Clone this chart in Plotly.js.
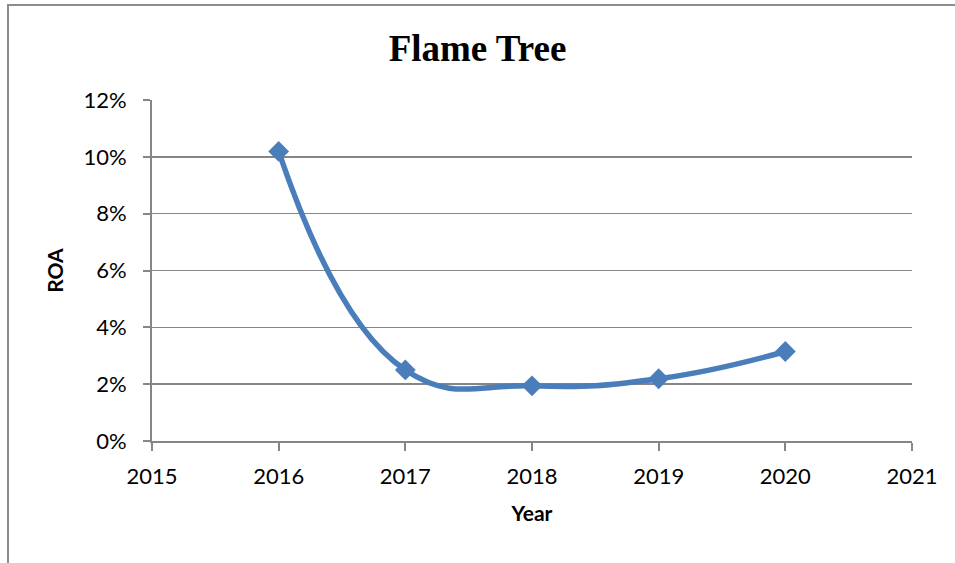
<!DOCTYPE html>
<html>
<head>
<meta charset="utf-8">
<script src="https://cdn.plot.ly/plotly-3.0.1.min.js"></script>
<style>
  html, body { margin: 0; padding: 0; background: #fff; overflow: hidden; }
  #frame { position: absolute; left: 7px; top: 4px; width: 1000px; height: 600px;
           border-left: 2px solid #8c8c8c; border-top: 2px solid #8c8c8c; pointer-events: none; z-index: 5; }
  #chart { position: absolute; left: 0; top: 0; width: 955px; height: 563px; }
</style>
</head>
<body>
<div id="chart"></div>
<div id="frame"></div>
<script>
const years = [2016, 2017, 2018, 2019, 2020];
const roa = [0.1019, 0.0250, 0.0194, 0.0219, 0.0315];
const chartTitle = "Flame Tree";
const xTitle = "Year";
const yTitle = "ROA";

const trace = {
  x: years,
  y: roa,
  type: 'scatter',
  mode: 'lines+markers',
  line: { color: '#4a7ebb', width: 5.5, shape: 'spline', smoothing: 1.3 },
  marker: { symbol: 'diamond', size: 16, color: '#4a7ebb' },
  hoverinfo: 'x+y'
};

const layout = {
  width: 955,
  height: 563,
  margin: { l: 152, r: 43, t: 100, b: 122 },
  paper_bgcolor: '#ffffff',
  plot_bgcolor: '#ffffff',
  showlegend: false,
  title: {
    text: '<b>' + chartTitle + '</b>',
    font: { family: 'Liberation Serif, Times New Roman, serif', size: 37, color: '#000' },
    x: 0.5, xanchor: 'center', y: 1 - 48 / 563, yanchor: 'middle'
  },
  xaxis: {
    range: [2015, 2021],
    dtick: 1,
    tick0: 2015,
    showgrid: false,
    zeroline: false,
    showline: true,
    linecolor: '#868686',
    linewidth: 2,
    ticks: 'outside',
    ticklen: 8,
    tickwidth: 2,
    tickcolor: '#868686',
    ticklabelstandoff: 7,
    tickfont: { family: 'Lato, Calibri, sans-serif', size: 22, color: '#000' },
    title: { text: '<b>' + xTitle + '</b>', font: { family: 'Lato, Calibri, sans-serif', size: 21, color: '#000' }, standoff: 18 }
  },
  yaxis: {
    range: [0, 0.12],
    dtick: 0.02,
    tickformat: '.0%',
    showgrid: true,
    gridcolor: '#868686',
    gridwidth: 1.5,
    zeroline: false,
    showline: true,
    linecolor: '#868686',
    linewidth: 2,
    ticks: 'outside',
    ticklen: 7,
    tickwidth: 2,
    tickcolor: '#868686',
    ticklabelstandoff: 12,
    tickfont: { family: 'Lato, Calibri, sans-serif', size: 22, color: '#000' },
    title: { text: '<b>' + yTitle + '</b>', font: { family: 'Lato, Calibri, sans-serif', size: 21, color: '#000' }, standoff: 14 }
  }
};

Plotly.newPlot('chart', [trace], layout, { displayModeBar: false, staticPlot: true });
</script>
</body>
</html>
